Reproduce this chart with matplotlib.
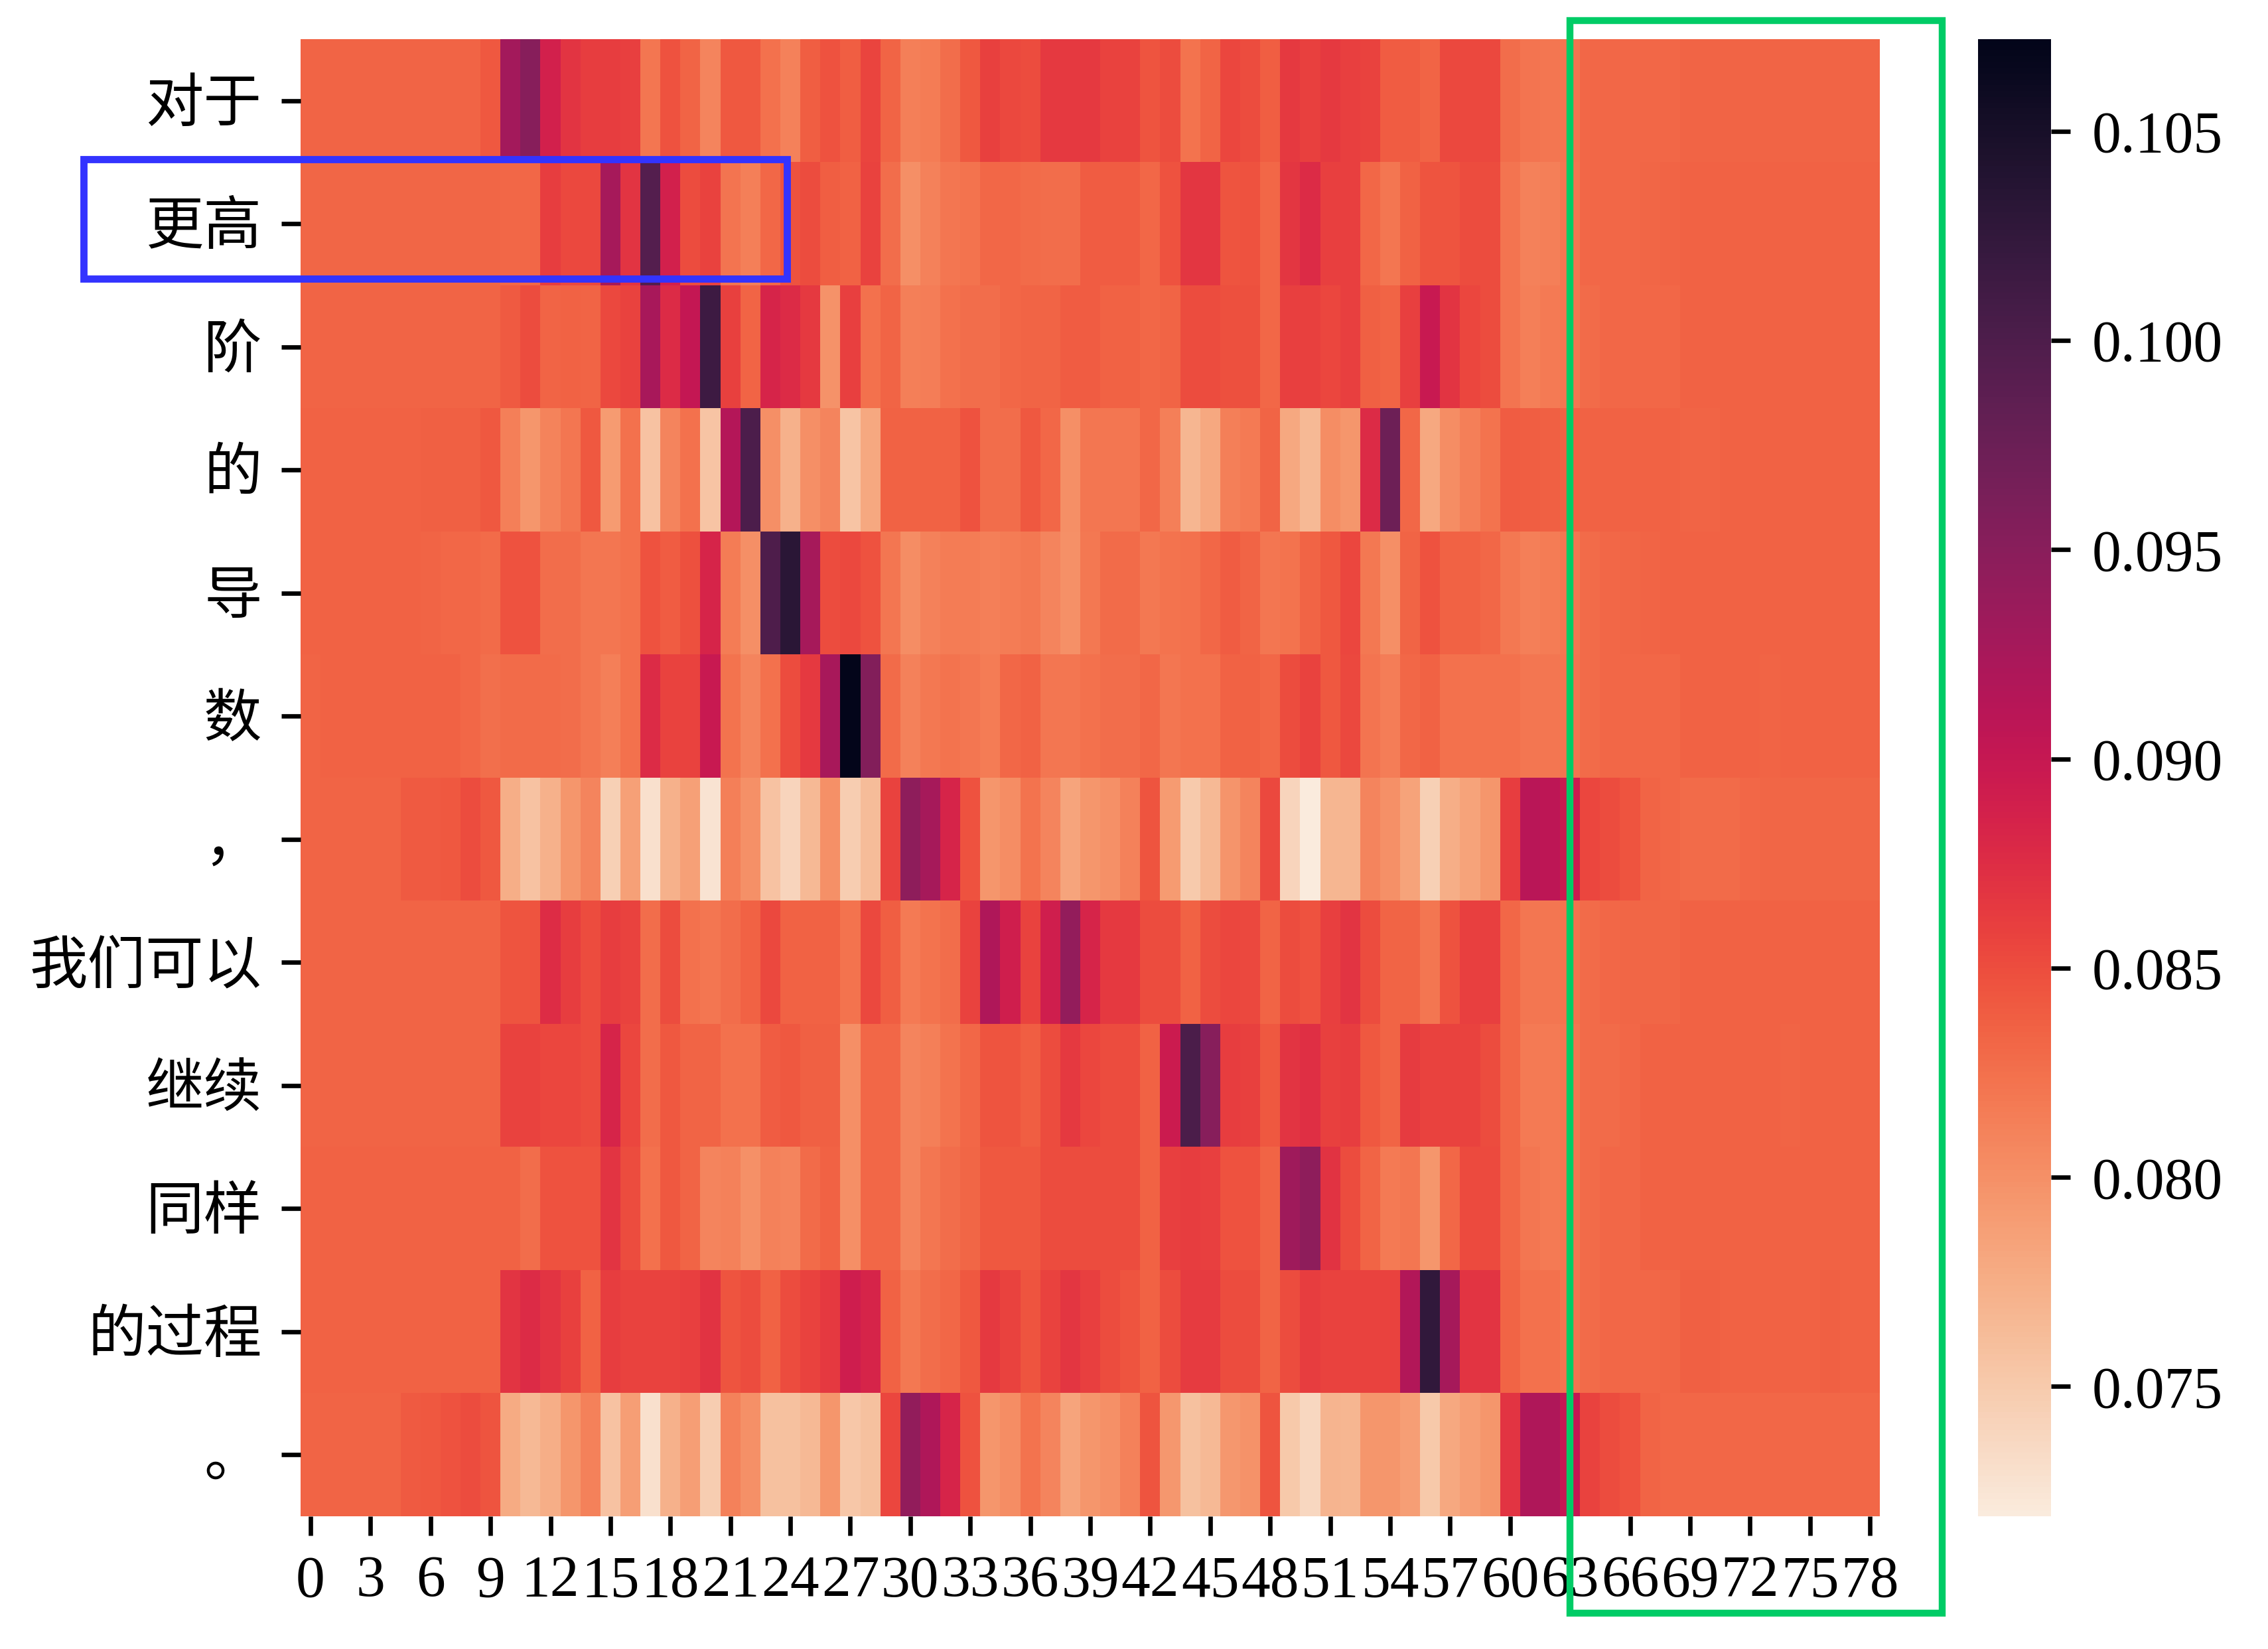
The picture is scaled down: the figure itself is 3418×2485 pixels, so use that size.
import numpy as np
import matplotlib
matplotlib.use("Agg")
import matplotlib.pyplot as plt
import seaborn as sns
from matplotlib.patches import Rectangle

plt.rcParams['font.family'] = ['Liberation Serif', 'Noto Sans CJK SC']

row_labels = ['对于', '更高', '阶', '的', '导', '数', '，', '我们可以', '继续', '同样', '的过程', '。']
xtick_step = 3
cbar_ticks = [0.075, 0.080, 0.085, 0.090, 0.095, 0.100, 0.105]

r00 = [0.0834,0.0834,0.0834,0.0834,0.0834,0.0834,0.0834,0.0834,0.0834,0.0842,
       0.0929,0.0952,0.0888,0.0868,0.0862,0.0862,0.0860,0.0820,0.0847,0.0834,
       0.0809,0.0843,0.0843,0.0824,0.0812,0.0838,0.0847,0.0838,0.0856,0.0834,
       0.0814,0.0816,0.0827,0.0843,0.0859,0.0853,0.0850,0.0864,0.0864,0.0864,
       0.0857,0.0857,0.0845,0.0850,0.0823,0.0834,0.0855,0.0850,0.0838,0.0864,
       0.0859,0.0864,0.0861,0.0857,0.0840,0.0840,0.0834,0.0853,0.0853,0.0853,
       0.0827,0.0822,0.0821,0.0822,0.0831,0.0832,0.0832,0.0832,0.0832,0.0834,
       0.0834,0.0834,0.0834,0.0834,0.0834,0.0834,0.0834,0.0834,0.0834]
r01 = [0.0833,0.0833,0.0833,0.0833,0.0833,0.0833,0.0833,0.0833,0.0833,0.0833,
       0.0831,0.0831,0.0862,0.0853,0.0853,0.0927,0.0868,0.0994,0.0888,0.0850,
       0.0857,0.0822,0.0814,0.0831,0.0847,0.0850,0.0838,0.0836,0.0857,0.0827,
       0.0801,0.0812,0.0820,0.0823,0.0831,0.0831,0.0829,0.0827,0.0827,0.0840,
       0.0840,0.0840,0.0832,0.0847,0.0867,0.0867,0.0845,0.0846,0.0831,0.0867,
       0.0877,0.0861,0.0861,0.0832,0.0820,0.0836,0.0845,0.0845,0.0850,0.0850,
       0.0822,0.0812,0.0814,0.0820,0.0831,0.0831,0.0831,0.0833,0.0834,0.0836,
       0.0836,0.0836,0.0836,0.0836,0.0836,0.0836,0.0836,0.0836,0.0836]
r02 = [0.0834,0.0834,0.0834,0.0834,0.0834,0.0834,0.0834,0.0834,0.0834,0.0834,
       0.0841,0.0850,0.0834,0.0836,0.0834,0.0853,0.0857,0.0925,0.0877,0.0902,
       0.1015,0.0859,0.0834,0.0884,0.0877,0.0865,0.0798,0.0861,0.0824,0.0834,
       0.0814,0.0815,0.0824,0.0827,0.0827,0.0832,0.0834,0.0834,0.0840,0.0840,
       0.0836,0.0836,0.0832,0.0834,0.0850,0.0850,0.0848,0.0848,0.0831,0.0861,
       0.0859,0.0855,0.0861,0.0837,0.0834,0.0861,0.0898,0.0868,0.0855,0.0850,
       0.0822,0.0814,0.0817,0.0821,0.0829,0.0832,0.0832,0.0832,0.0832,0.0835,
       0.0835,0.0835,0.0835,0.0835,0.0835,0.0835,0.0835,0.0835,0.0835]
r03 = [0.0836,0.0836,0.0836,0.0836,0.0836,0.0836,0.0837,0.0837,0.0837,0.0842,
       0.0813,0.0796,0.0811,0.0820,0.0843,0.0791,0.0824,0.0757,0.0809,0.0824,
       0.0755,0.0915,0.1001,0.0801,0.0772,0.0801,0.0810,0.0755,0.0781,0.0836,
       0.0836,0.0836,0.0836,0.0847,0.0827,0.0827,0.0843,0.0832,0.0801,0.0820,
       0.0820,0.0820,0.0832,0.0814,0.0768,0.0781,0.0814,0.0817,0.0834,0.0781,
       0.0765,0.0802,0.0796,0.0877,0.0973,0.0831,0.0781,0.0803,0.0814,0.0823,
       0.0840,0.0838,0.0837,0.0836,0.0836,0.0836,0.0836,0.0836,0.0836,0.0834,
       0.0834,0.0836,0.0836,0.0836,0.0836,0.0836,0.0835,0.0836,0.0836]
r04 = [0.0836,0.0836,0.0836,0.0836,0.0836,0.0836,0.0834,0.0831,0.0831,0.0829,
       0.0847,0.0847,0.0827,0.0827,0.0820,0.0820,0.0824,0.0847,0.0840,0.0848,
       0.0884,0.0816,0.0801,0.1000,0.1033,0.0927,0.0850,0.0853,0.0847,0.0820,
       0.0802,0.0812,0.0816,0.0816,0.0814,0.0816,0.0819,0.0810,0.0799,0.0819,
       0.0829,0.0829,0.0819,0.0823,0.0825,0.0831,0.0840,0.0834,0.0820,0.0823,
       0.0834,0.0842,0.0855,0.0819,0.0801,0.0834,0.0847,0.0836,0.0836,0.0831,
       0.0819,0.0814,0.0816,0.0821,0.0829,0.0832,0.0833,0.0834,0.0836,0.0836,
       0.0836,0.0836,0.0836,0.0836,0.0836,0.0836,0.0836,0.0836,0.0836]
r05 = [0.0834,0.0836,0.0836,0.0836,0.0836,0.0836,0.0836,0.0836,0.0831,0.0826,
       0.0829,0.0829,0.0829,0.0827,0.0820,0.0813,0.0825,0.0877,0.0857,0.0857,
       0.0897,0.0823,0.0810,0.0824,0.0850,0.0865,0.0925,0.1072,0.0955,0.0829,
       0.0812,0.0819,0.0823,0.0820,0.0816,0.0831,0.0836,0.0820,0.0820,0.0824,
       0.0827,0.0827,0.0832,0.0820,0.0825,0.0825,0.0836,0.0836,0.0831,0.0850,
       0.0857,0.0843,0.0854,0.0822,0.0815,0.0831,0.0836,0.0824,0.0824,0.0824,
       0.0824,0.0820,0.0820,0.0822,0.0829,0.0832,0.0832,0.0832,0.0832,0.0835,
       0.0835,0.0835,0.0835,0.0834,0.0836,0.0836,0.0835,0.0836,0.0836]
r06 = [0.0834,0.0834,0.0834,0.0834,0.0834,0.0841,0.0841,0.0843,0.0850,0.0843,
       0.0775,0.0757,0.0772,0.0796,0.0810,0.0745,0.0787,0.0730,0.0772,0.0787,
       0.0727,0.0814,0.0800,0.0757,0.0741,0.0765,0.0799,0.0747,0.0763,0.0857,
       0.0946,0.0926,0.0884,0.0847,0.0796,0.0802,0.0823,0.0810,0.0783,0.0796,
       0.0800,0.0812,0.0845,0.0791,0.0750,0.0765,0.0797,0.0809,0.0853,0.0741,
       0.0719,0.0768,0.0768,0.0810,0.0799,0.0785,0.0745,0.0775,0.0785,0.0796,
       0.0862,0.0912,0.0907,0.0895,0.0855,0.0850,0.0845,0.0834,0.0831,0.0829,
       0.0829,0.0829,0.0831,0.0833,0.0833,0.0833,0.0833,0.0833,0.0833]
r07 = [0.0834,0.0834,0.0834,0.0834,0.0834,0.0834,0.0834,0.0834,0.0834,0.0834,
       0.0845,0.0845,0.0876,0.0862,0.0850,0.0862,0.0857,0.0827,0.0850,0.0825,
       0.0820,0.0827,0.0836,0.0853,0.0836,0.0836,0.0836,0.0823,0.0853,0.0838,
       0.0817,0.0823,0.0827,0.0857,0.0920,0.0891,0.0857,0.0890,0.0942,0.0884,
       0.0864,0.0864,0.0850,0.0851,0.0836,0.0850,0.0855,0.0853,0.0834,0.0850,
       0.0847,0.0861,0.0868,0.0850,0.0834,0.0834,0.0820,0.0847,0.0861,0.0861,
       0.0831,0.0820,0.0820,0.0823,0.0829,0.0831,0.0833,0.0833,0.0833,0.0836,
       0.0836,0.0835,0.0835,0.0835,0.0835,0.0835,0.0835,0.0835,0.0835]
r08 = [0.0834,0.0834,0.0834,0.0834,0.0834,0.0834,0.0834,0.0834,0.0834,0.0834,
       0.0857,0.0857,0.0855,0.0855,0.0850,0.0884,0.0855,0.0827,0.0843,0.0834,
       0.0834,0.0824,0.0824,0.0840,0.0842,0.0837,0.0837,0.0801,0.0832,0.0832,
       0.0809,0.0814,0.0823,0.0832,0.0845,0.0845,0.0838,0.0850,0.0864,0.0855,
       0.0850,0.0850,0.0836,0.0895,0.1003,0.0952,0.0862,0.0859,0.0842,0.0868,
       0.0873,0.0859,0.0862,0.0842,0.0834,0.0863,0.0857,0.0857,0.0857,0.0850,
       0.0831,0.0817,0.0818,0.0820,0.0829,0.0829,0.0832,0.0835,0.0835,0.0835,
       0.0835,0.0835,0.0835,0.0835,0.0834,0.0835,0.0835,0.0835,0.0835]
r09 = [0.0835,0.0835,0.0835,0.0835,0.0835,0.0835,0.0835,0.0835,0.0835,0.0835,
       0.0835,0.0827,0.0847,0.0847,0.0847,0.0868,0.0850,0.0825,0.0843,0.0834,
       0.0809,0.0812,0.0799,0.0812,0.0809,0.0829,0.0836,0.0801,0.0832,0.0832,
       0.0809,0.0820,0.0827,0.0833,0.0843,0.0842,0.0843,0.0850,0.0850,0.0850,
       0.0851,0.0851,0.0836,0.0860,0.0862,0.0860,0.0847,0.0847,0.0834,0.0932,
       0.0946,0.0870,0.0850,0.0834,0.0817,0.0820,0.0796,0.0832,0.0852,0.0852,
       0.0832,0.0820,0.0818,0.0821,0.0829,0.0831,0.0831,0.0836,0.0836,0.0836,
       0.0836,0.0836,0.0836,0.0836,0.0836,0.0836,0.0836,0.0836,0.0836]
r10 = [0.0835,0.0835,0.0835,0.0835,0.0835,0.0835,0.0835,0.0835,0.0835,0.0835,
       0.0868,0.0877,0.0868,0.0859,0.0835,0.0862,0.0857,0.0857,0.0857,0.0861,
       0.0870,0.0845,0.0850,0.0836,0.0850,0.0857,0.0864,0.0892,0.0884,0.0836,
       0.0819,0.0827,0.0831,0.0843,0.0864,0.0857,0.0845,0.0857,0.0867,0.0860,
       0.0850,0.0845,0.0836,0.0850,0.0863,0.0863,0.0850,0.0850,0.0834,0.0850,
       0.0862,0.0857,0.0857,0.0857,0.0857,0.0917,0.1026,0.0926,0.0868,0.0868,
       0.0834,0.0825,0.0825,0.0822,0.0829,0.0832,0.0832,0.0832,0.0833,0.0837,
       0.0837,0.0835,0.0835,0.0835,0.0835,0.0835,0.0837,0.0835,0.0835]
r11 = [0.0834,0.0834,0.0834,0.0834,0.0834,0.0841,0.0843,0.0847,0.0850,0.0845,
       0.0778,0.0765,0.0775,0.0796,0.0812,0.0757,0.0789,0.0730,0.0772,0.0789,
       0.0747,0.0812,0.0799,0.0758,0.0758,0.0765,0.0796,0.0753,0.0758,0.0855,
       0.0943,0.0920,0.0884,0.0847,0.0796,0.0802,0.0823,0.0810,0.0783,0.0796,
       0.0800,0.0812,0.0845,0.0794,0.0758,0.0765,0.0794,0.0798,0.0845,0.0751,
       0.0737,0.0770,0.0768,0.0796,0.0795,0.0788,0.0751,0.0781,0.0788,0.0796,
       0.0868,0.0920,0.0920,0.0902,0.0857,0.0850,0.0846,0.0834,0.0832,0.0832,
       0.0832,0.0832,0.0832,0.0832,0.0832,0.0832,0.0832,0.0832,0.0832]

data = np.array([r00, r01, r02, r03, r04, r05, r06, r07, r08, r09, r10, r11])
n_rows, n_cols = data.shape

fig = plt.figure(figsize=(3418 / 300, 2485 / 300), dpi=300)
ax = fig.add_axes([0.1325, 0.0805, 0.6964, 0.8958])
cax = fig.add_axes([0.8722, 0.0805, 0.0320, 0.8958])

sns.heatmap(data, ax=ax, cbar_ax=cax, cmap='rocket_r',
            xticklabels=False, yticklabels=False)

xt = np.arange(0, n_cols, xtick_step)
ax.set_xticks(xt + 0.5)
ax.set_xticklabels([str(v) for v in xt], rotation=0)
ax.set_yticks(np.arange(n_rows) + 0.5)
ax.set_yticklabels(row_labels, rotation=0)
ax.tick_params(axis='both', length=7, width=1.6, pad=7, labelsize=21, color='black')

cax.set_yticks(cbar_ticks)
cax.set_yticklabels(['%.3f' % t for t in cbar_ticks])
cax.tick_params(axis='y', length=7, width=1.6, pad=8, labelsize=21)

blue = Rectangle((0.0369, 0.831), 0.3101, 0.0724, transform=fig.transFigure,
                 fill=False, edgecolor='#3333FF', linewidth=2.6, clip_on=False, zorder=10)
green = Rectangle((0.6922, 0.0217), 0.1642, 0.9658, transform=fig.transFigure,
                  fill=False, edgecolor='#00CC66', linewidth=2.5, clip_on=False, zorder=10)
fig.add_artist(blue)
fig.add_artist(green)

fig.savefig('out.png', dpi=300)
